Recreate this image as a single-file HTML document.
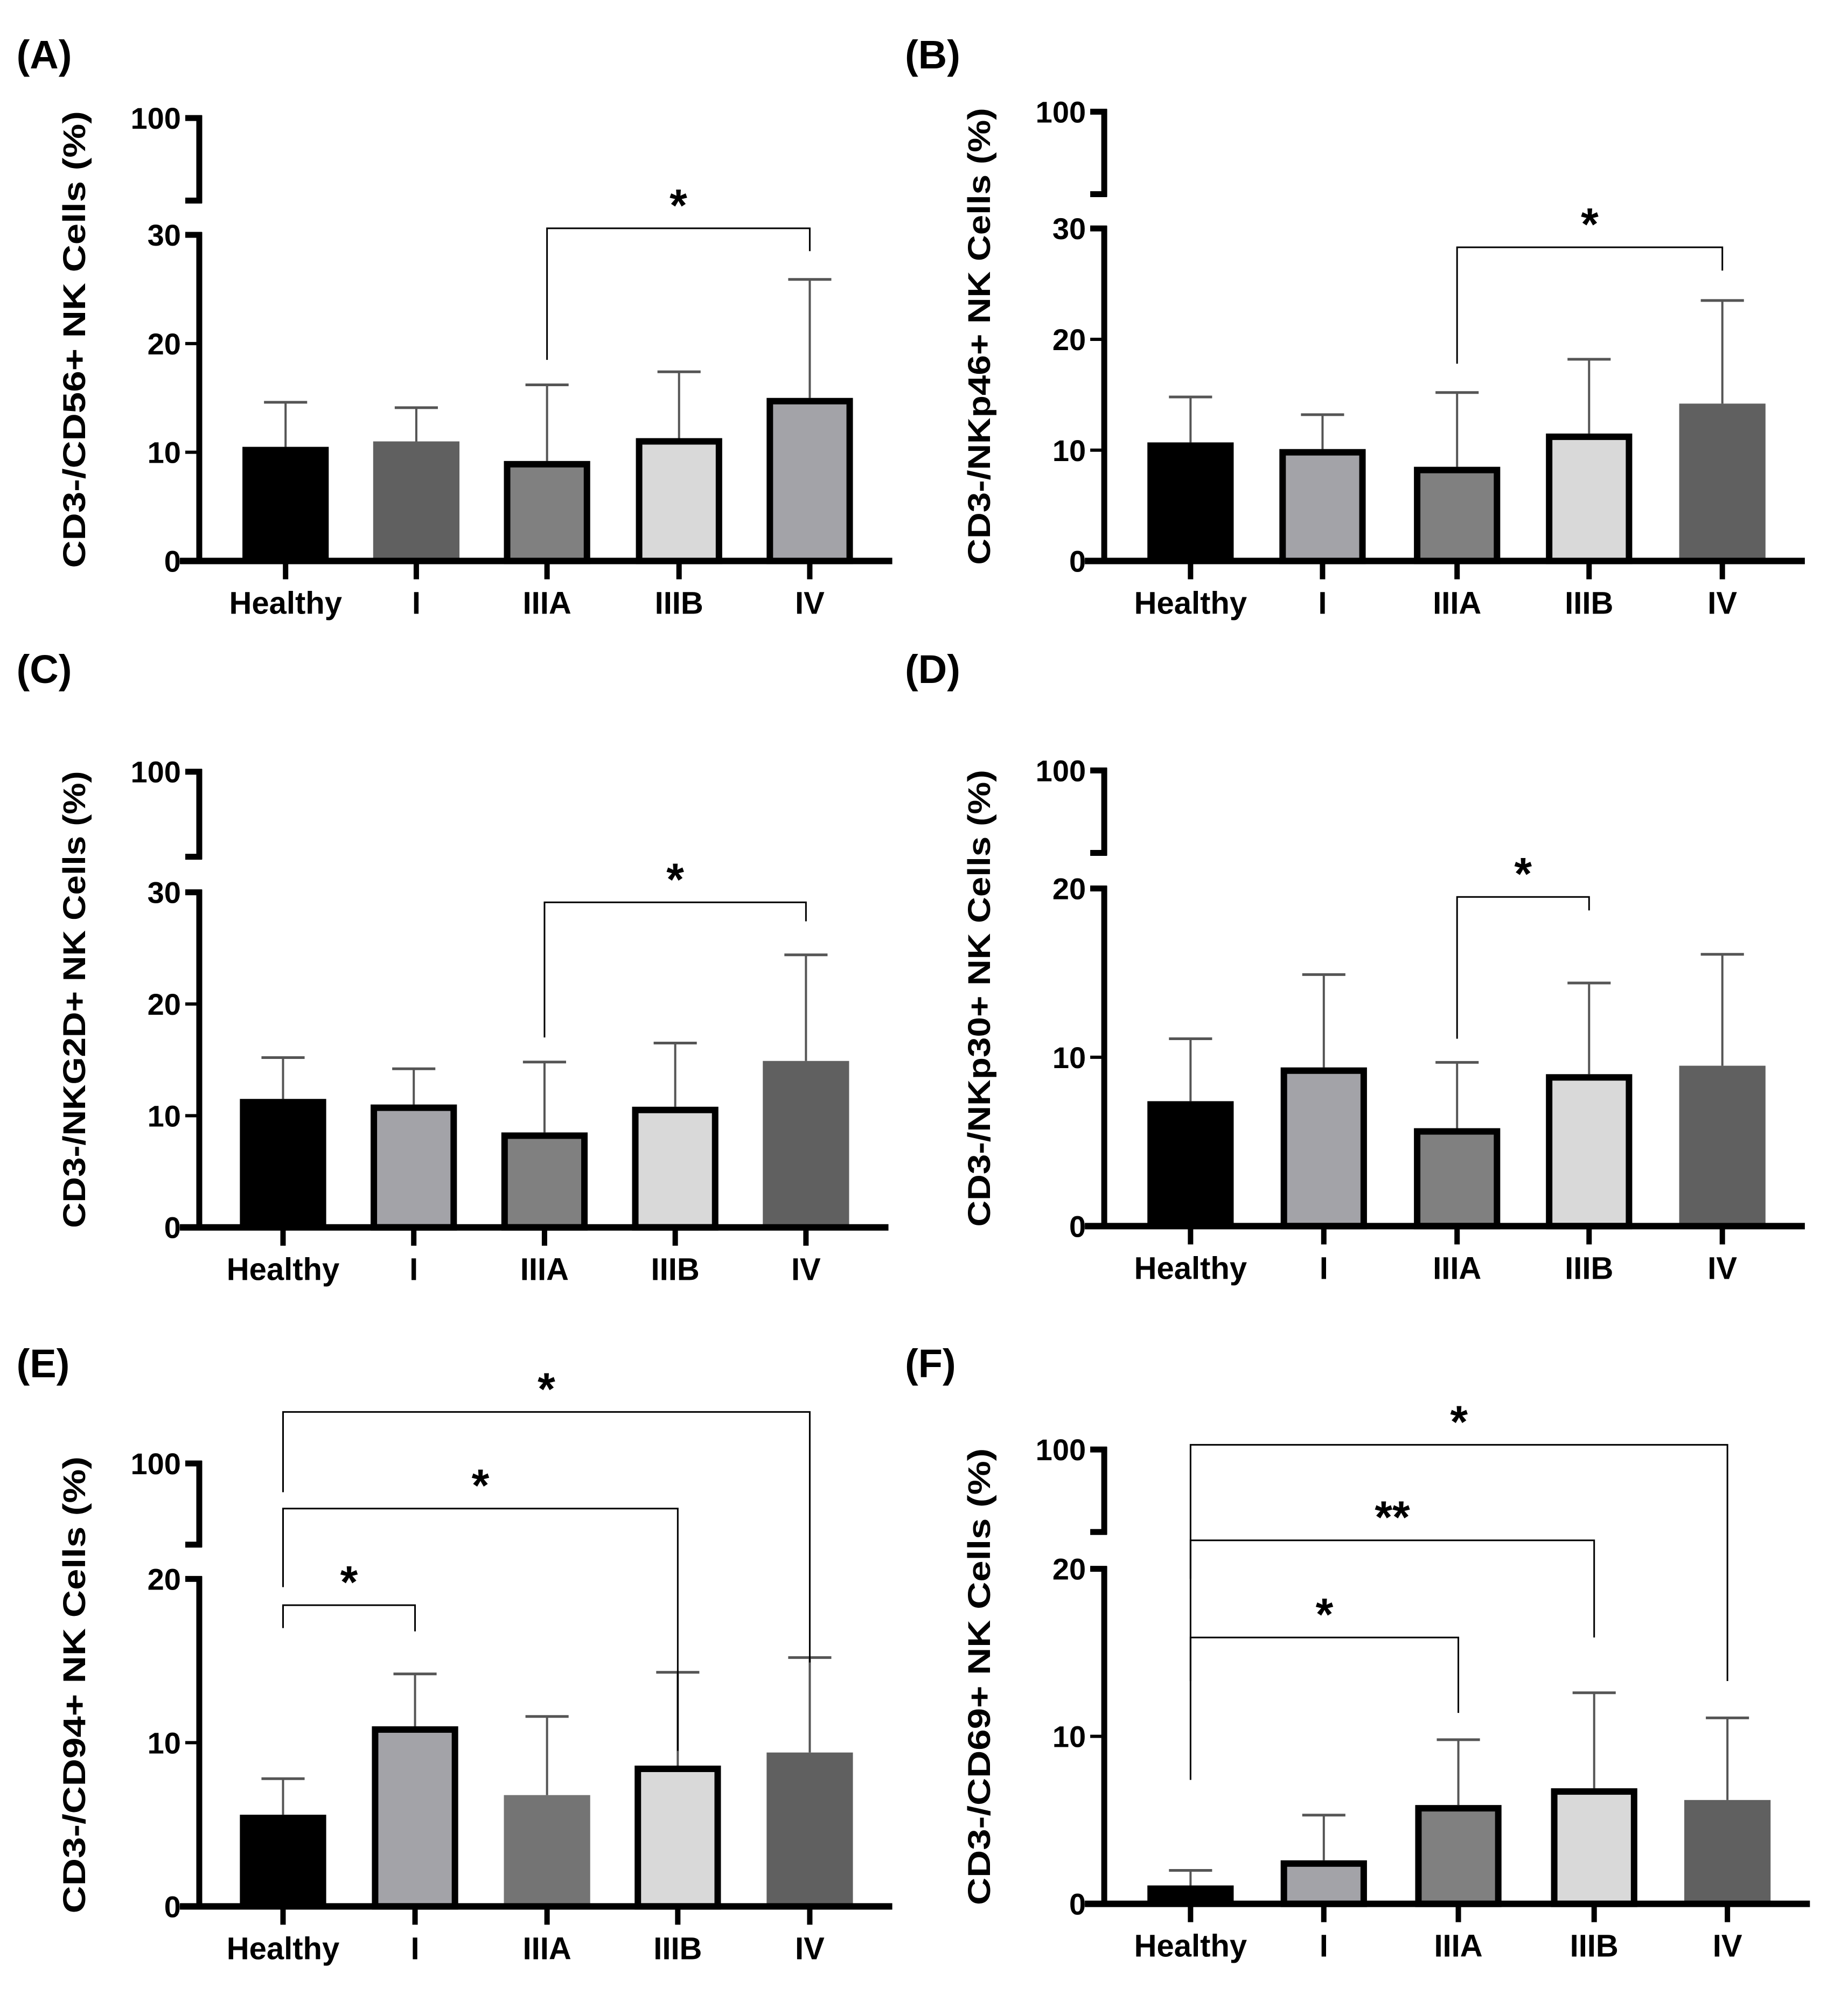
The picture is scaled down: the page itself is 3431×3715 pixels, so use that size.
<!DOCTYPE html>
<html><head><meta charset="utf-8"><style>
html,body{margin:0;padding:0;background:#fff}
svg{display:block;font-family:"Liberation Sans",Arial,sans-serif}
</style></head><body>
<svg id="fig" width="3431" height="3715" viewBox="0 0 3431 3715" xmlns="http://www.w3.org/2000/svg"></svg>
<script>
const categories = ["Healthy","I","IIIA","IIIB","IV"];
const meansA = [10.5,11.0,9.2,11.3,15.0];
const errA   = [14.6,14.1,16.2,17.4,25.9];
const meansB = [10.7,10.1,8.5,11.5,14.2];
const errB   = [14.8,13.2,15.2,18.2,23.5];
const meansC = [11.5,11.0,8.5,10.8,14.9];
const errC   = [15.2,14.2,14.8,16.5,24.4];
const meansD = [7.4,9.4,5.8,9.0,9.5];
const errD   = [11.1,14.9,9.7,14.4,16.1];
const meansE = [5.6,11.0,6.8,8.6,9.4];
const errE   = [7.8,14.2,11.6,14.3,15.2];
const meansF = [1.1,2.6,5.9,6.9,6.2];
const errF   = [2.0,5.3,9.8,12.6,11.1];
const ticksA = [0,10,20,30];
const ticks20 = [0,10,20];

const S = 3431/1456;
const NS = "http://www.w3.org/2000/svg";
const svg = document.getElementById('fig');
function el(tag, attrs, parent){
  const e = document.createElementNS(NS, tag);
  for (const k in attrs) e.setAttribute(k, attrs[k]);
  (parent||svg).appendChild(e);
  return e;
}
const panels = [
  {id:"A",title:"CD3-/CD56+ NK Cells (%)",lx:13,ly:54,ax:157,zero:442,max:30,u100:93,ubrk:158,centers:[225,328,431,535,638],means:meansA,errs:errA,ticks:ticksA,
   colors:["#000","#606060","#808080","#d9d9d9","#a3a3a8"],border:[0,0,1,1,1],
   sig:[{a:2,b:4,y:30.6,la:18.5,lb:28.5,t:"*"}]},
  {id:"B",title:"CD3-/NKp46+ NK Cells (%)",lx:713,ly:54,ax:870,zero:442,max:30,u100:88,ubrk:153,centers:[938,1042,1148,1252,1357],means:meansB,errs:errB,ticks:ticksA,
   colors:["#000","#a3a3a8","#808080","#d9d9d9","#606060"],border:[0,1,1,1,0],
   sig:[{a:2,b:4,y:28.3,la:17.8,lb:26.2,t:"*"}]},
  {id:"C",title:"CD3-/NKG2D+ NK Cells (%)",lx:13,ly:538,ax:157,zero:967,max:30,u100:608,ubrk:675,centers:[223,326,429,532,635],means:meansC,errs:errC,ticks:ticksA,
   colors:["#000","#a3a3a8","#808080","#d9d9d9","#606060"],border:[0,1,1,1,0],
   sig:[{a:2,b:4,y:29.1,la:17.0,lb:27.4,t:"*"}]},
  {id:"D",title:"CD3-/NKp30+ NK Cells (%)",lx:713,ly:538,ax:870,zero:966,max:20,u100:607,ubrk:672,centers:[938,1043,1148,1252,1357],means:meansD,errs:errD,ticks:ticks20,
   colors:["#000","#a3a3a8","#808080","#d9d9d9","#606060"],border:[0,1,1,1,0],
   sig:[{a:2,b:3,y:19.5,la:11.1,lb:18.7,t:"*"}]},
  {id:"E",title:"CD3-/CD94+ NK Cells (%)",lx:13,ly:1085,ax:157,zero:1502,max:20,u100:1153,ubrk:1217,centers:[223,327,431,534,638],means:meansE,errs:errE,ticks:ticks20,
   colors:["#000","#a3a3a8","#747474","#d9d9d9","#606060"],border:[0,1,0,1,0],
   sig:[{a:0,b:1,y:18.4,la:17.0,lb:16.8,t:"*"},{a:0,b:3,y:24.3,la:19.5,lb:9.5,t:"*"},{a:0,b:4,y:30.2,la:25.3,lb:14.9,t:"*"}]},
  {id:"F",title:"CD3-/CD69+ NK Cells (%)",lx:713,ly:1085,ax:870,zero:1500,max:20,u100:1142,ubrk:1207,centers:[938,1043,1149,1256,1361],means:meansF,errs:errF,ticks:ticks20,
   colors:["#000","#a3a3a8","#808080","#d9d9d9","#606060"],border:[0,1,1,1,0],
   sig:[{a:0,b:2,y:15.9,la:7.4,lb:11.4,t:"*"},{a:0,b:3,y:21.7,la:13.3,lb:15.9,t:"**"},{a:0,b:4,y:27.4,la:19.4,lb:13.3,t:"*"}]}
];
panels.forEach(p=>{
  const g = el('g',{});
  
  
  const topY = p.max===30 ? (p.id==="A"?185:(p.id==="B"?180:703)) : (p.id==="D"?700:(p.id==="E"?1244:1236));
  const unit = (p.zero-topY)/p.max;
  const y = v => (p.zero - v*unit)*S;
  const X = v => v*S;
  const bw = 68;
  const L = el('text',{x:X(p.lx),y:X(p.ly),'font-size':74,'font-weight':'bold',fill:'#000'},g);
  L.textContent = '('+p.id+')';
  
  
  p.means.forEach((m,i)=>{
    const cx = p.centers[i];
    const eb = el('line',{x1:X(cx),x2:X(cx),y1:y(m),y2:y(p.errs[i]),stroke:'#555','stroke-width':4},g);
    
    
    const cap = el('line',{x1:X(cx-17),x2:X(cx+17),y1:y(p.errs[i]),y2:y(p.errs[i]),stroke:'#555','stroke-width':5},g);
    
    
    const bd = p.border[i]?12:0;
    const r = el('rect',{x:X(cx-bw/2)+bd/2,y:y(m)+bd/2,width:X(bw)-bd,height:Math.max(0,y(0)-y(m)-bd/2),fill:p.colors[i],stroke:bd?'#000':'none','stroke-width':bd},g);
    
    
  });
  const ax = X(p.ax);
  el('line',{x1:ax,x2:ax,y1:y(0),y2:y(p.max)-5,stroke:'#000','stroke-width':11},g);
  el('line',{x1:ax-26,x2:ax+5,y1:y(p.max),y2:y(p.max),stroke:'#000','stroke-width':11},g);
  el('line',{x1:ax,x2:ax,y1:X(p.u100)-5,y2:X(p.ubrk)+5,stroke:'#000','stroke-width':11},g);
  el('line',{x1:ax-26,x2:ax+5,y1:X(p.u100),y2:X(p.u100),stroke:'#000','stroke-width':11},g);
  el('line',{x1:ax-26,x2:ax+5,y1:X(p.ubrk),y2:X(p.ubrk),stroke:'#000','stroke-width':11},g);
  const t100 = el('text',{x:ax-34,y:X(p.u100)+20,'font-size':56,'font-weight':'bold','text-anchor':'end'},g);
  t100.textContent='100';
  
  
  p.ticks.forEach(t=>{
    el('line',{x1:ax-26,x2:ax,y1:y(t),y2:y(t),stroke:'#000','stroke-width':6},g);
    const tl = el('text',{x:ax-34,y:y(t)+20,'font-size':56,'font-weight':'bold','text-anchor':'end'},g);
    tl.textContent = String(t);
    
    
  });
  const xa = el('line',{x1:ax-36,x2:X(p.centers[4]+65),y1:y(0),y2:y(0),stroke:'#000','stroke-width':12},g);
  
  
  categories.forEach((c,i)=>{
    const cx = X(p.centers[i]);
    el('line',{x1:cx,x2:cx,y1:y(0),y2:y(0)+34,stroke:'#000','stroke-width':10},g);
    const xl = el('text',{x:cx,y:y(0)+98,'font-size':58,'font-weight':'bold','text-anchor':'middle'},g);
    xl.textContent = c;
    
    
  });
  const midY = (X(p.u100)+y(0))/2;
  const tx = ax - 212;
  const yt = el('text',{x:tx,y:midY,'font-size':58,'font-weight':'bold','text-anchor':'middle',transform:`rotate(-90 ${tx} ${midY})`,textLength:X(360),lengthAdjust:'spacingAndGlyphs'},g);
  yt.textContent = p.title;
  
  
  p.sig.forEach((s,k)=>{
    const xa1 = X(p.centers[s.a]), xb = X(p.centers[s.b]);
    const br = el('path',{d:`M${xa1},${y(s.la)} L${xa1},${y(s.y)} L${xb},${y(s.y)} L${xb},${y(s.lb)}`,fill:'none',stroke:'#000','stroke-width':3},g);
    
    
    const st = el('text',{x:(xa1+xb)/2,y:y(s.y)-14,'font-size':84,'font-weight':'bold','text-anchor':'middle'},g);
    st.textContent = s.t;
    
    
  });
});
</script>
</body></html>
